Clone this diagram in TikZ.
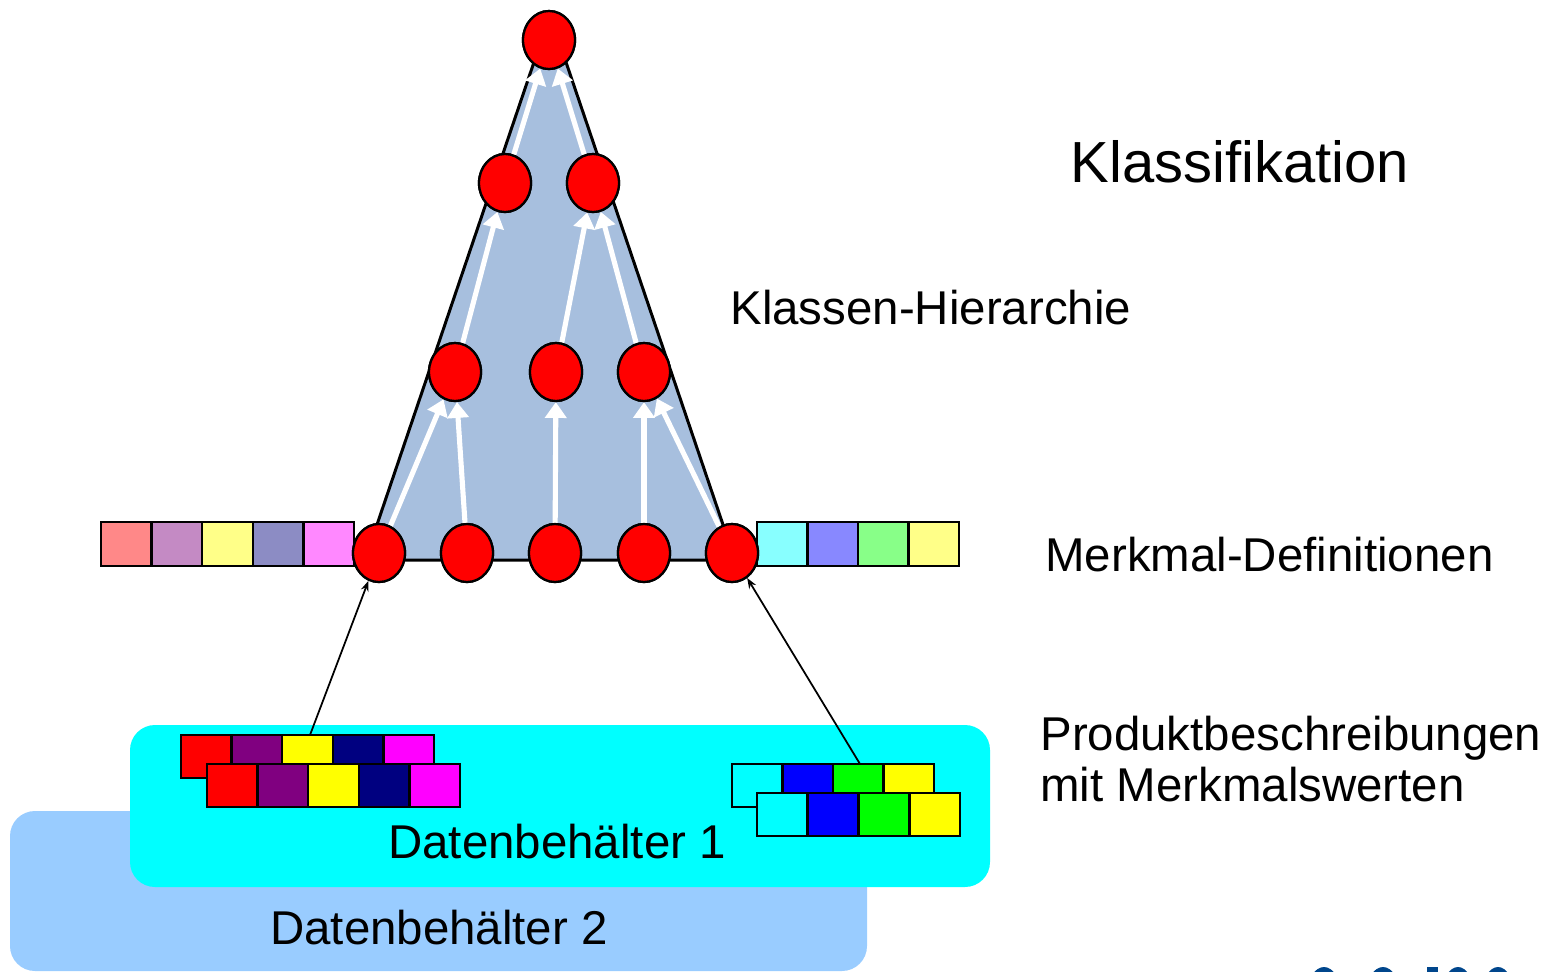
\documentclass[tikz,border=0pt]{standalone}
\usepackage{fontspec}
\setmainfont{Liberation Sans}
\usetikzlibrary{arrows.meta,shapes.geometric}
\definecolor{tri}{RGB}{167,191,222}
\definecolor{dbone}{RGB}{0,255,255}
\definecolor{dbtwo}{RGB}{153,204,255}
\definecolor{logo}{RGB}{0,70,140}
\definecolor{mA}{RGB}{255,136,136}
\definecolor{mB}{RGB}{196,138,196}
\definecolor{mC}{RGB}{255,255,136}
\definecolor{mD}{RGB}{140,140,196}
\definecolor{mE}{RGB}{255,136,255}
\definecolor{mF}{RGB}{136,255,255}
\definecolor{mG}{RGB}{136,136,255}
\definecolor{mH}{RGB}{136,255,136}
\definecolor{pRed}{RGB}{255,0,0}
\definecolor{pPurple}{RGB}{128,0,128}
\definecolor{pYellow}{RGB}{255,255,0}
\definecolor{pNavy}{RGB}{0,0,128}
\definecolor{pMagenta}{RGB}{255,0,255}
\definecolor{pCyan}{RGB}{0,255,255}
\definecolor{pBlue}{RGB}{0,0,255}
\definecolor{pGreen}{RGB}{0,255,0}
\tikzset{
  cls/.style={ellipse, draw=black, line width=1.3pt, fill=pRed, minimum width=1.04cm, minimum height=1.16cm, inner sep=0pt},
  cell/.style={rectangle, draw=black, line width=1.4pt, minimum width=1.012cm, minimum height=0.87cm, inner sep=0pt},
  warrow/.style={draw=white, line width=2.9pt, -{Triangle[width=12pt,length=9pt]}},
  barrow/.style={draw=black, line width=1pt, -{Stealth[length=6pt,width=4.5pt]}},
  lbl/.style={font=\fontsize{27}{32}\selectfont, inner sep=0pt, text=black},
}
\begin{document}
\begin{tikzpicture}[x=0.02cm,y=-0.02cm]
\useasboundingbox (0,0) rectangle (1548,971);
\clip (0,0) rectangle (1548,971);
% data containers
\fill[dbtwo, rounded corners=0.5cm] (10,811) rectangle (867,971);
\fill[dbone, rounded corners=0.5cm] (130,725) rectangle (990,887);
% triangle
\filldraw[fill=tri, draw=black, line width=1.7pt, line join=round] (365,560) -- (550,15) -- (735,560) -- cycle;
% feature bars
\foreach \c [count=\i from 0] in {mA,mB,mC,mD,mE}
  \node[cell, fill=\c] (ml\i) at (126.3+50.6*\i,544) {};
\foreach \c [count=\i from 0] in {mF,mG,mH,mC}
  \node[cell, fill=\c] (mr\i) at (782.25+50.5*\i,544) {};
% class nodes
\node[cls] (top) at (549,40) {};
\node[cls] (a1) at (505,183) {};
\node[cls] (a2) at (593,183) {};
\node[cls] (b1) at (455,372) {};
\node[cls] (b2) at (556,372) {};
\node[cls] (b3) at (644,372) {};
\node[cls] (c1) at (379,553) {};
\node[cls] (c2) at (467,553) {};
\node[cls] (c3) at (555,553) {};
\node[cls] (c4) at (644,553) {};
\node[cls] (c5) at (732,553) {};
% white arrows
\draw[warrow] (c1) -- (b1);
\draw[warrow] (c2) -- (b1);
\draw[warrow] (c3) -- (b2);
\draw[warrow] (c4) -- (b3);
\draw[warrow] (c5) -- (b3);
\draw[warrow] (b1) -- (a1);
\draw[warrow] (b2) -- (a2);
\draw[warrow] (b3) -- (a2);
\draw[warrow] (a1) -- (top);
\draw[warrow] (a2) -- (top);
% redraw nodes on top of arrows
\foreach \n/\x/\y in {top/549/40,a1/505/183,a2/593/183,b1/455/372,b2/556/372,b3/644/372,c1/379/553,c2/467/553,c3/555/553,c4/644/553,c5/732/553}
  \node[cls] at (\x,\y) {};
% product descriptions
\foreach \c [count=\i from 0] in {pRed,pPurple,pYellow,pNavy,pMagenta}
  \node[cell, fill=\c, minimum height=0.86cm] (pl\i) at (206.3+50.6*\i,756.5) {};
\foreach \c [count=\i from 0] in {pRed,pPurple,pYellow,pNavy,pMagenta}
  \node[cell, fill=\c, minimum height=0.86cm] (ql\i) at (232.3+50.6*\i,785.5) {};
\foreach \c [count=\i from 0] in {pCyan,pBlue,pGreen,pYellow}
  \node[cell, fill=\c, minimum height=0.86cm] (pr\i) at (757.25+50.5*\i,785.5) {};
\foreach \c [count=\i from 0] in {pCyan,pBlue,pGreen,pYellow}
  \node[cell, fill=\c, minimum height=0.86cm] (qr\i) at (782.4+50.75*\i,814.5) {};
% black arrows
\coordinate (sl) at (310,735);
\coordinate (sr) at (860,764);
\draw[barrow] (sl) -- (c1);
\draw[barrow] (sr) -- (c5);
% texts
\node[lbl, font=\fontsize{33}{38}\selectfont] (klass) at (1240,162) {Klassifikation};
\node[lbl, anchor=west] (hier) at (730,308) {Klassen-Hierarchie};
\node[lbl, anchor=west] (merk) at (1045,555) {Merkmal-Definitionen};
\node[lbl, anchor=west, align=left] (prod) at (1040,759) {Produktbeschreibungen\\[-3pt]mit Merkmalswerten};
\node[lbl] (db1) at (557,842) {Datenbehälter 1};
\node[lbl] (db2) at (439,928) {Datenbehälter 2};
% partial logo at the bottom edge
\fill[logo] (1324,995) ellipse (17 and 28);
\fill[logo] (1383,995) ellipse (17 and 28);
\fill[logo] (1427,967) rectangle (1438,975);
\fill[logo] (1458,995) ellipse (16 and 28);
\fill[logo] (1498,995) ellipse (16 and 28);
\fill[logo] (1560,995) ellipse (17 and 28);
\end{tikzpicture}
\end{document}
